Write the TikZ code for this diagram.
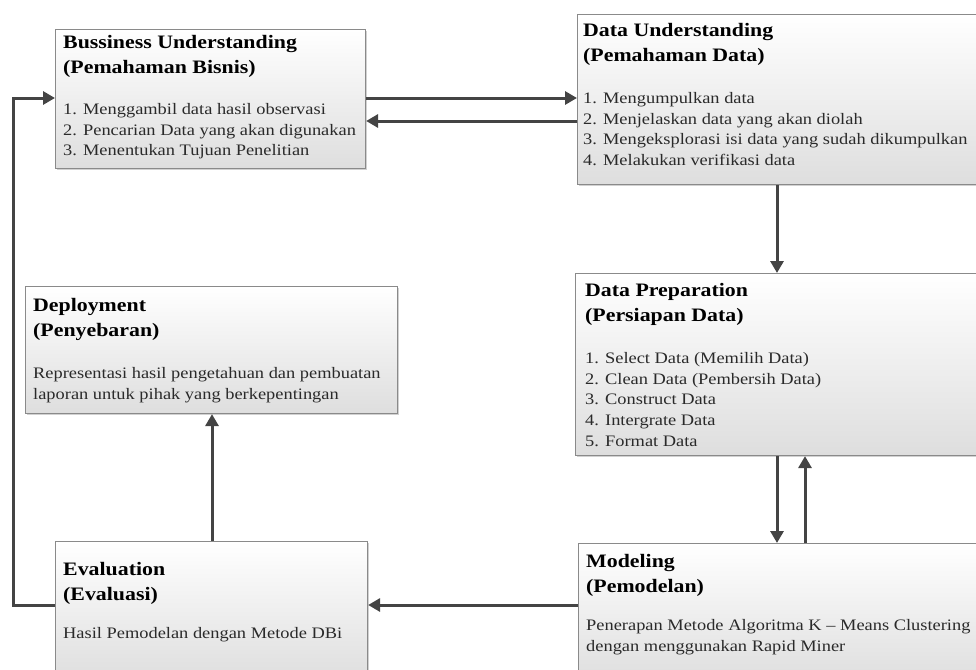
\documentclass[tikz,border=0pt]{standalone}
\usepackage{fontspec}
\setmainfont{Liberation Serif}[FakeStretch=1.15]
\usetikzlibrary{arrows.meta,shadows}
\definecolor{arr}{HTML}{444444}
\definecolor{bord}{HTML}{8A8A8A}
\definecolor{txt}{HTML}{2A2A2A}
\begin{document}
\begin{tikzpicture}[x=1pt,y=-1pt,
  box/.style={draw=bord, line width=1.1pt, top color=white, bottom color=black!13,
    anchor=north west, inner sep=0pt,
    drop shadow={shadow xshift=1.5pt, shadow yshift=-1.5pt, opacity=0.3, fill=black!60}},
  ttl/.style={anchor=north west, inner sep=0pt, align=left, text=black,
    font=\bfseries\fontsize{19}{25.5}\selectfont},
  bdy/.style={anchor=north west, inner sep=0pt, align=left, text=txt,
    font=\fontsize{16}{20.7}\selectfont},
  link/.style={draw=arr, line width=3pt, -{Triangle[width=13pt,length=12pt]}}]
\useasboundingbox (0,0) rectangle (976,669);
\clip (0,0) rectangle (976,669);

% boxes
\node[box, minimum width=310pt, minimum height=139pt] (bu) at (55,29) {};
\node[box, minimum width=420pt, minimum height=170pt] (du) at (577,14) {};
\node[box, minimum width=420pt, minimum height=182pt] (dp) at (575,273) {};
\node[box, minimum width=420pt, minimum height=140pt] (mo) at (578,543) {};
\node[box, minimum width=312pt, minimum height=140pt] (ev) at (55,541) {};
\node[box, minimum width=372pt, minimum height=127pt] (de) at (25,286) {};

% texts
\node[ttl] (bu-t) at (63,35) {Bussiness Understanding\\(Pemahaman Bisnis)};
\node[bdy] (bu-b) at (63,103) {1. Menggambil data hasil observasi\\2. Pencarian Data yang akan digunakan\\3. Menentukan Tujuan Penelitian};

\node[ttl] (du-t) at (583,23) {Data Understanding\\(Pemahaman Data)};
\node[bdy] (du-b) at (583,92) {1. Mengumpulkan data\\2. Menjelaskan data yang akan diolah\\3. Mengeksplorasi isi data yang sudah dikumpulkan\\4. Melakukan verifikasi data};

\node[ttl] (dp-t) at (585,283) {Data Preparation\\(Persiapan Data)};
\node[bdy] (dp-b) at (585,352) {1. Select Data (Memilih Data)\\2. Clean Data (Pembersih Data)\\3. Construct Data\\4. Intergrate Data\\5. Format Data};

\node[ttl] (de-t) at (33,298) {Deployment\\(Penyebaran)};
\node[bdy] (de-b) at (33,367) {Representasi hasil pengetahuan dan pembuatan\\laporan untuk pihak yang berkepentingan};

\node[ttl] (ev-t) at (63,562) {Evaluation\\(Evaluasi)};
\node[bdy] (ev-b) at (63,627) {Hasil Pemodelan dengan Metode DBi};

\node[ttl] (mo-t) at (586,554) {Modeling\\(Pemodelan)};
\node[bdy] (mo-b) at (586,619) {Penerapan Metode Algoritma K -- Means Clustering\\dengan menggunakan Rapid Miner};

% helper coordinates
\coordinate (y98) at (0,98);
\coordinate (y120) at (0,121);
\coordinate (y604) at (0,605);
\coordinate (x777) at (777,0);
\coordinate (x805) at (805,0);
\coordinate (x212) at (212,0);
\coordinate (fb) at (13,98);

% connectors
\draw[link] (bu.east |- y98) -- (du.west |- y98);
\draw[link] (du.west |- y120) -- (bu.east |- y120);
\draw[link] (du.south -| x777) -- (dp.north -| x777);
\draw[link] (dp.south -| x777) -- (mo.north -| x777);
\draw[link] (mo.north -| x805) -- (dp.south -| x805);
\draw[link] (mo.west |- y604) -- (ev.east |- y604);
\draw[link] (ev.north -| x212) -- (de.south -| x212);
\draw[link] (ev.west |- y604) -| (fb) -- (bu.west |- fb);
\end{tikzpicture}
\end{document}
